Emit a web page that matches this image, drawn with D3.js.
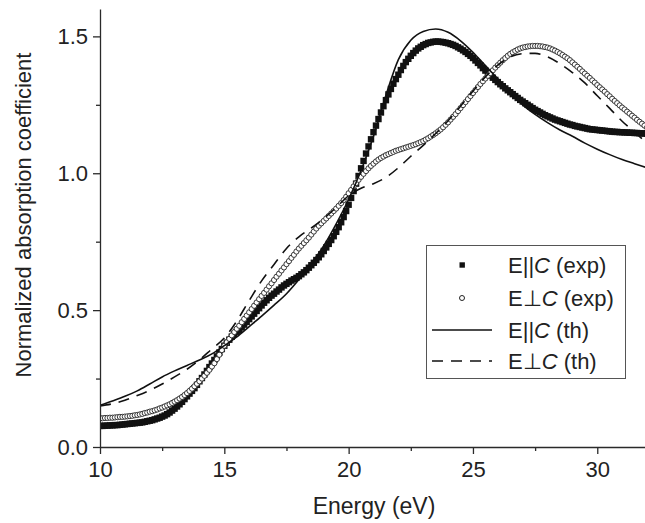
<!DOCTYPE html>
<html lang="en">
<head>
<meta charset="UTF-8">
<title>Normalized absorption coefficient</title>
<script src="https://d3js.org/d3.v7.min.js"></script>
<style>
  body { margin: 0; background: #fff; }
  svg { display: block; font-family: "Liberation Sans", Arial, sans-serif; }
  .axis path, .axis line { stroke: #2a2a2a; stroke-width: 1.3; }
  .axis text { font-size: 22px; fill: #222; font-family: "Liberation Sans", Arial, sans-serif; }
  .title { fill: #222; }
  .legend text { font-size: 22px; fill: #222; }
</style>
</head>
<body>
<div id="chart"></div>
<script>
// experimental spectra, one value every 0.1 eV from 10 to 32 eV
const expStart = 10, expStep = 0.1;
const parExp = [
  0.077, 0.077, 0.078, 0.078, 0.079, 0.079, 0.080, 0.080, 0.081, 0.082,
  0.083, 0.084, 0.085, 0.086, 0.087, 0.088, 0.089, 0.090, 0.092, 0.094,
  0.096, 0.098, 0.101, 0.104, 0.107, 0.111, 0.115, 0.120, 0.126, 0.133,
  0.140, 0.148, 0.156, 0.165, 0.175, 0.185, 0.195, 0.205, 0.215, 0.227,
  0.240, 0.252, 0.265, 0.278, 0.292, 0.305, 0.318, 0.331, 0.345, 0.358,
  0.370, 0.381, 0.392, 0.403, 0.413, 0.421, 0.428, 0.437, 0.447, 0.457,
  0.467, 0.477, 0.487, 0.497, 0.507, 0.517, 0.527, 0.536, 0.545, 0.553,
  0.560, 0.568, 0.575, 0.583, 0.590, 0.596, 0.602, 0.608, 0.613, 0.618,
  0.624, 0.631, 0.638, 0.646, 0.655, 0.664, 0.673, 0.683, 0.693, 0.704,
  0.716, 0.729, 0.742, 0.756, 0.770, 0.786, 0.803, 0.821, 0.840, 0.862,
  0.885, 0.910, 0.935, 0.962, 0.990, 1.018, 1.045, 1.072, 1.098, 1.124,
  1.150, 1.174, 1.198, 1.222, 1.245, 1.267, 1.288, 1.308, 1.327, 1.344,
  1.360, 1.377, 1.392, 1.406, 1.418, 1.429, 1.439, 1.448, 1.456, 1.462,
  1.468, 1.472, 1.476, 1.478, 1.480, 1.481, 1.481, 1.480, 1.479, 1.477,
  1.475, 1.472, 1.469, 1.465, 1.460, 1.455, 1.449, 1.443, 1.436, 1.429,
  1.421, 1.412, 1.403, 1.394, 1.384, 1.375, 1.366, 1.357, 1.349, 1.341,
  1.333, 1.325, 1.318, 1.310, 1.303, 1.296, 1.289, 1.282, 1.275, 1.268,
  1.262, 1.256, 1.250, 1.244, 1.238, 1.232, 1.227, 1.222, 1.217, 1.212,
  1.208, 1.204, 1.200, 1.196, 1.193, 1.190, 1.187, 1.184, 1.181, 1.178,
  1.176, 1.173, 1.171, 1.169, 1.167, 1.165, 1.163, 1.161, 1.160, 1.159,
  1.158, 1.157, 1.156, 1.155, 1.154, 1.153, 1.152, 1.151, 1.151, 1.150,
  1.150, 1.149, 1.149, 1.148, 1.148, 1.147, 1.147, 1.146, 1.146, 1.145,
  1.145
];
const perpExp = [
  0.105, 0.105, 0.106, 0.106, 0.107, 0.107, 0.108, 0.109, 0.110, 0.110,
  0.111, 0.112, 0.113, 0.114, 0.116, 0.117, 0.119, 0.121, 0.124, 0.126,
  0.129, 0.131, 0.134, 0.137, 0.141, 0.144, 0.148, 0.152, 0.156, 0.161,
  0.166, 0.171, 0.177, 0.183, 0.190, 0.197, 0.205, 0.213, 0.222, 0.231,
  0.240, 0.250, 0.260, 0.271, 0.282, 0.294, 0.306, 0.321, 0.337, 0.354,
  0.370, 0.383, 0.395, 0.408, 0.420, 0.432, 0.443, 0.456, 0.468, 0.480,
  0.492, 0.504, 0.516, 0.528, 0.540, 0.552, 0.563, 0.575, 0.587, 0.598,
  0.610, 0.622, 0.633, 0.645, 0.656, 0.668, 0.679, 0.691, 0.702, 0.714,
  0.725, 0.735, 0.745, 0.755, 0.765, 0.776, 0.787, 0.798, 0.808, 0.817,
  0.826, 0.835, 0.844, 0.853, 0.862, 0.871, 0.881, 0.891, 0.902, 0.914,
  0.927, 0.939, 0.952, 0.964, 0.976, 0.987, 0.998, 1.008, 1.018, 1.027,
  1.035, 1.043, 1.050, 1.056, 1.061, 1.066, 1.070, 1.074, 1.078, 1.082,
  1.085, 1.088, 1.091, 1.094, 1.097, 1.100, 1.103, 1.106, 1.110, 1.114,
  1.118, 1.123, 1.128, 1.134, 1.140, 1.146, 1.153, 1.160, 1.168, 1.177,
  1.186, 1.196, 1.206, 1.216, 1.227, 1.238, 1.249, 1.260, 1.271, 1.282,
  1.293, 1.304, 1.315, 1.326, 1.336, 1.346, 1.356, 1.366, 1.376, 1.386,
  1.395, 1.404, 1.413, 1.421, 1.429, 1.436, 1.442, 1.447, 1.452, 1.456,
  1.459, 1.461, 1.463, 1.464, 1.465, 1.465, 1.465, 1.464, 1.463, 1.461,
  1.459, 1.456, 1.452, 1.448, 1.443, 1.438, 1.432, 1.426, 1.420, 1.413,
  1.405, 1.397, 1.389, 1.381, 1.372, 1.364, 1.356, 1.348, 1.339, 1.331,
  1.322, 1.314, 1.306, 1.298, 1.289, 1.281, 1.272, 1.264, 1.256, 1.248,
  1.240, 1.233, 1.225, 1.218, 1.210, 1.203, 1.195, 1.188, 1.181, 1.174,
  1.167
];

// theory curves, every 0.5 eV
const thStart = 10, thStep = 0.5;
const parTh = [
  0.152, 0.168, 0.185, 0.205, 0.230, 0.256, 0.278, 0.298, 0.318, 0.340,
  0.370, 0.402, 0.440, 0.478, 0.518, 0.560, 0.612, 0.670, 0.735, 0.815,
  0.905, 1.010, 1.135, 1.285, 1.415, 1.486, 1.518, 1.527, 1.515, 1.484,
  1.442, 1.393, 1.345, 1.295, 1.250, 1.215, 1.185, 1.158, 1.135, 1.110,
  1.088, 1.068, 1.050, 1.035, 1.020
];
const perpTh = [
  0.150, 0.158, 0.171, 0.188, 0.207, 0.230, 0.256, 0.284, 0.318, 0.358,
  0.398, 0.460, 0.535, 0.607, 0.667, 0.725, 0.768, 0.800, 0.835, 0.875,
  0.918, 0.945, 0.962, 0.985, 1.020, 1.062, 1.102, 1.145, 1.192, 1.245,
  1.300, 1.352, 1.395, 1.425, 1.437, 1.438, 1.425, 1.400, 1.368, 1.330,
  1.283, 1.237, 1.190, 1.150, 1.110
];

const xTicks = [10, 15, 20, 25, 30];
const xMinor = [12.5, 17.5, 22.5, 27.5];
const yTicks = [0.0, 0.5, 1.0, 1.5];
const yMinor = [0.25, 0.75, 1.25];
const legendLabels = ["(exp)", "(exp)", "(th)", "(th)"];

const width = 645, height = 523;
const margin = { top: 9, right: -2, bottom: 76, left: 100 };

const svg = d3.select("#chart").append("svg")
  .attr("width", width).attr("height", height);

const x = d3.scaleLinear().domain([10, 32]).range([margin.left, width - margin.right]);
const y = d3.scaleLinear().domain([0, 1.6]).range([height - margin.bottom, margin.top]);

const toPts = (arr, start, step) => arr.map((v, i) => ({ e: start + i * step, v: v }));
const parExpPts = toPts(parExp, expStart, expStep);
const perpExpPts = toPts(perpExp, expStart, expStep);
const parThPts = toPts(parTh, thStart, thStep);
const perpThPts = toPts(perpTh, thStart, thStep);

svg.append("clipPath").attr("id", "clip")
  .append("rect").attr("x", margin.left).attr("y", 0)
  .attr("width", width - margin.left).attr("height", height - margin.bottom);

const plot = svg.append("g").attr("clip-path", "url(#clip)");

// squares (E||C exp)
plot.selectAll(".sq").data(parExpPts).enter().append("rect")
  .attr("class", "sq")
  .attr("x", d => x(d.e) - 3.2).attr("y", d => y(d.v) - 3.2)
  .attr("width", 6.4).attr("height", 6.4)
  .attr("fill", "#111");

// circles (E⊥C exp)
plot.selectAll(".ci").data(perpExpPts).enter().append("circle")
  .attr("class", "ci")
  .attr("cx", d => x(d.e)).attr("cy", d => y(d.v)).attr("r", 2.6)
  .attr("fill", "#fff").attr("stroke", "#222").attr("stroke-width", 0.9);

const line = d3.line().x(d => x(d.e)).y(d => y(d.v)).curve(d3.curveMonotoneX);

plot.append("path").datum(parThPts)
  .attr("d", line).attr("fill", "none")
  .attr("stroke", "#111").attr("stroke-width", 1.6);

plot.append("path").datum(perpThPts)
  .attr("d", line).attr("fill", "none")
  .attr("stroke", "#111").attr("stroke-width", 1.6)
  .attr("stroke-dasharray", "11,8");

// axes
svg.append("g").attr("class", "axis")
  .attr("transform", `translate(0,${y(0)})`)
  .call(d3.axisBottom(x).tickValues(xTicks).tickSize(7).tickSizeOuter(0).tickPadding(7).tickFormat(d3.format("d")));

svg.append("g").attr("class", "axis")
  .attr("transform", `translate(0,${y(0)})`)
  .call(d3.axisBottom(x).tickValues(xMinor).tickSize(4).tickSizeOuter(0).tickFormat(""))
  .select(".domain").remove();

svg.append("g").attr("class", "axis")
  .attr("transform", `translate(${x(10)},0)`)
  .call(d3.axisLeft(y).tickValues(yTicks).tickSize(7).tickSizeOuter(0).tickPadding(5).tickFormat(d3.format(".1f")));

svg.append("g").attr("class", "axis")
  .attr("transform", `translate(${x(10)},0)`)
  .call(d3.axisLeft(y).tickValues(yMinor).tickSize(4).tickSizeOuter(0).tickFormat(""))
  .select(".domain").remove();

svg.selectAll(".axis text").attr("font-size", null);

// axis titles
svg.append("text").attr("class", "title")
  .attr("x", 374).attr("y", 514)
  .attr("text-anchor", "middle")
  .style("font-size", "23px")
  .text("Energy (eV)");

svg.append("text").attr("class", "title")
  .attr("transform", "translate(31,215) rotate(-90)")
  .attr("text-anchor", "middle")
  .style("font-size", "22px")
  .text("Normalized absorption coefficient");

// legend
const lg = svg.append("g").attr("class", "legend");
lg.append("rect").attr("x", 426.5).attr("y", 245.5).attr("width", 199).attr("height", 133)
  .attr("fill", "#fff").attr("stroke", "#555").attr("stroke-width", 1);

const rowsY = [265, 298, 330, 361];
const symbols = ["||", "\u22A5", "||", "\u22A5"];

lg.append("rect").attr("x", 459.5).attr("y", rowsY[0] - 2.7).attr("width", 5.4).attr("height", 5.4).attr("fill", "#111");
lg.append("circle").attr("cx", 462).attr("cy", rowsY[1]).attr("r", 2.5)
  .attr("fill", "#fff").attr("stroke", "#222").attr("stroke-width", 1);
lg.append("line").attr("x1", 432).attr("x2", 492).attr("y1", rowsY[2]).attr("y2", rowsY[2])
  .attr("stroke", "#111").attr("stroke-width", 1.6);
lg.append("line").attr("x1", 432).attr("x2", 492).attr("y1", rowsY[3]).attr("y2", rowsY[3])
  .attr("stroke", "#111").attr("stroke-width", 1.6).attr("stroke-dasharray", "11,8");

rowsY.forEach((ry, i) => {
  const t = lg.append("text").attr("x", 508).attr("y", ry).attr("dy", "0.36em");
  t.append("tspan").text("E" + symbols[i]);
  t.append("tspan").attr("font-style", "italic").text("C");
  t.append("tspan").text(" " + legendLabels[i]);
});
</script>
</body>
</html>
